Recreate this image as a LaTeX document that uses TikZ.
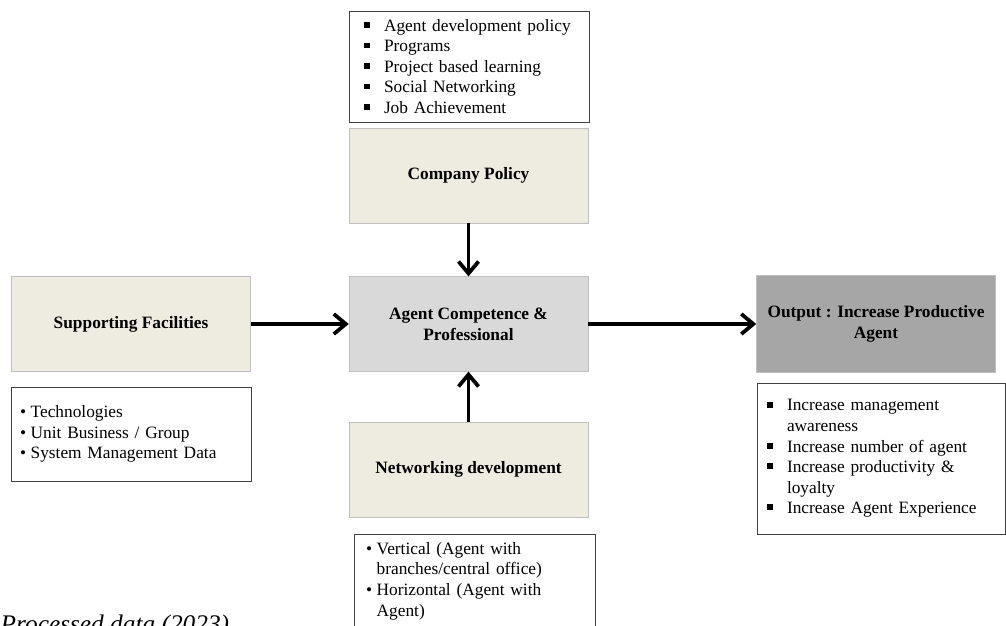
\documentclass[tikz,border=0pt]{standalone}
\usepackage{fontspec}
\setmainfont{Liberation Serif}
\usetikzlibrary{arrows.meta}
\definecolor{paper}{HTML}{EEECE1}
\definecolor{coregray}{HTML}{D9D9D9}
\definecolor{outgray}{HTML}{A6A6A6}
\newcommand{\sqbul}{\makebox[15pt][l]{\raisebox{0.2em}{\rule{0.34em}{0.34em}}}}
\newcommand{\rdbul}{\makebox[8pt][l]{•}}

\begin{document}
\begin{tikzpicture}[x=0.75pt,y=-0.75pt,
    stagebox/.style={draw=black!25, fill=paper, minimum width=179.25pt, minimum height=71pt,
        inner sep=2pt, align=center, font=\fontsize{13}{15.5}\selectfont\bfseries},
    listbox/.style={draw=black!75, line width=0.6pt, align=left, font=\fontsize{13}{15.4}\selectfont},
    flowarrow/.style={line width=2.8pt, -{Straight Barb[length=9pt,width=15pt]}}]
    \useasboundingbox (0,0) rectangle (1006,625);

    \node[listbox, minimum height=83.25pt, text width=157.5pt, inner xsep=11.25pt] (policylist) at (469,66.5)
        {\sqbul Agent development policy\\ \sqbul Programs\\ \sqbul Project based learning\\
         \sqbul Social Networking\\ \sqbul Job Achievement};
    \node[stagebox] (policy) at (468.5,175.5) {Company Policy};
    \node[stagebox, fill=coregray] (agent) at (468.5,324) {Agent Competence \&\\Professional};
    \node[stagebox] (network) at (468.5,469.5) {Networking development};
    \node[stagebox] (support) at (131,324) {Supporting Facilities};
    \node[stagebox, fill=outgray, minimum height=72.75pt] (output) at (876,324) {Output : Increase Productive\\Agent};

    \node[listbox, minimum height=70.5pt, text width=166.5pt, inner xsep=6.75pt] (supportlist) at (131,434)
        {\rdbul Technologies\\ \rdbul Unit Business / Group\\ \rdbul System Management Data};
    \node[listbox, minimum height=113.25pt, text width=171pt, inner xsep=7.5pt] (outputlist) at (881,458.5)
        {\sqbul Increase management\\ \hspace*{15pt}awareness\\ \sqbul Increase number of agent\\
         \sqbul Increase productivity \&\\ \hspace*{15pt}loyalty\\ \sqbul Increase Agent Experience};
    \node[listbox, anchor=north, text width=162.75pt, inner xsep=9pt, inner ysep=6pt, text depth=60pt] (networklist) at (474.5,534)
        {\rdbul Vertical (Agent with\\ \hspace*{8pt}branches/central office)\\ \rdbul Horizontal (Agent with\\ \hspace*{8pt}Agent)};

    \draw[flowarrow] (policy) -- (agent);
    \draw[flowarrow] (network) -- (agent);
    \draw[flowarrow] (support) -- (agent);
    \draw[flowarrow] (agent) -- (output);

    \node[anchor=base west, font=\fontsize{19}{22}\selectfont\itshape] (source) at (-4,632) {Processed data (2023)};
\end{tikzpicture}
\end{document}
